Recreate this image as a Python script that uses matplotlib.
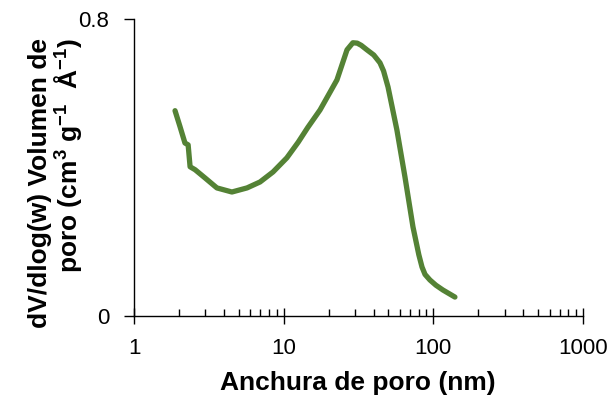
import numpy as np
import matplotlib
matplotlib.use("Agg")
import matplotlib.pyplot as plt
from matplotlib.ticker import LogLocator, NullFormatter, FixedLocator

plt.rcParams["font.family"] = ["Liberation Sans", "DejaVu Sans"]
plt.rcParams["mathtext.fontset"] = "custom"
plt.rcParams["mathtext.rm"] = "Liberation Sans:bold"
plt.rcParams["mathtext.default"] = "rm"

# pore width (nm) and dV/dlog(w)
width_nm = [1.88, 2.03, 2.19, 2.30, 2.37, 2.56, 2.98, 3.58, 4.51, 5.69, 6.95, 8.49,
            10.5, 12.5, 14.5, 17.5, 22.7, 26.5, 29.0, 31.0, 33.0, 36.0, 40.0, 44.0,
            46.5, 49.8, 57.1, 64.6, 73.1, 80.0, 84.0, 88.0, 94.9, 104.0, 115.9, 139.4]
dv_dlogw = [0.553, 0.510, 0.466, 0.461, 0.402, 0.394, 0.372, 0.345, 0.334, 0.345,
            0.361, 0.388, 0.426, 0.468, 0.508, 0.555, 0.636, 0.717, 0.736, 0.735,
            0.729, 0.717, 0.703, 0.682, 0.660, 0.617, 0.501, 0.375, 0.240, 0.165,
            0.132, 0.112, 0.097, 0.083, 0.070, 0.051]

x_ticks = [1, 10, 100, 1000]
y_ticks = [0, 0.8]
y_ticklabels = ["0", "0.8"]

fig = plt.figure(figsize=(6.11, 3.95), dpi=100)
ax = fig.add_axes([134 / 611, 79 / 395, 449 / 611, 297 / 395])

ax.plot(width_nm, dv_dlogw, color="#548235", lw=3.8, solid_capstyle="round",
        solid_joinstyle="round")

ax.set_xscale("log")
ax.set_xlim(1, 1000)
ax.set_ylim(0, 0.8)
ax.xaxis.set_major_locator(FixedLocator(x_ticks))
ax.set_xticklabels([str(t) for t in x_ticks])
ax.xaxis.set_minor_locator(LogLocator(base=10, subs=np.arange(2, 10)))
ax.xaxis.set_minor_formatter(NullFormatter())
ax.set_yticks(y_ticks)
ax.set_yticklabels(y_ticklabels)

for s in ["top", "right"]:
    ax.spines[s].set_visible(False)
for s in ["left", "bottom"]:
    ax.spines[s].set_linewidth(1.0)

ax.tick_params(axis="x", which="major", direction="inout", length=11, width=1.0,
               labelsize=16, pad=10)
ax.tick_params(axis="x", which="minor", direction="in", length=5, width=1.0)
ax.tick_params(axis="y", which="major", direction="out", length=7, width=1.0,
               labelsize=16, pad=11)

fig.text(358 / 611, 1 - 383 / 395, "Anchura de poro (nm)", ha="center", va="center",
         fontsize=19, fontweight="bold")
fig.text(56 / 611, 1 - 183 / 395,
         "dV/dlog(w) Volumen de\nporo (cm$^{3}$ g$^{-1}$  Å$^{-1}$)",
         rotation=90, ha="center", va="center", multialignment="right",
         fontsize=19, fontweight="bold", linespacing=1.0)

fig.savefig("out.png", dpi=100)
